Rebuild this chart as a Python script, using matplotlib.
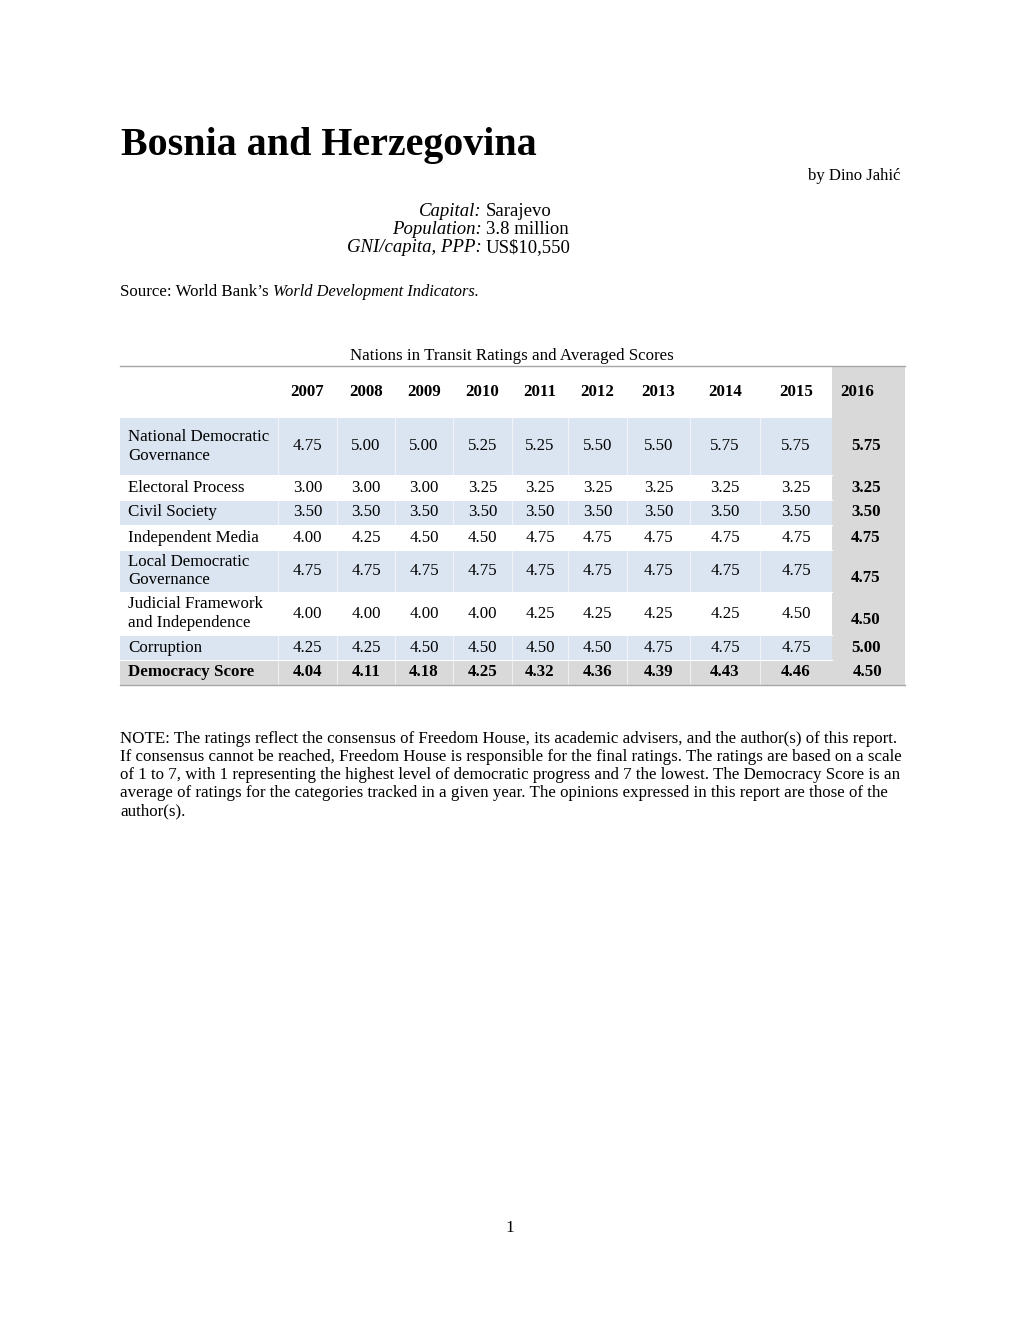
import matplotlib
matplotlib.use("Agg")
import matplotlib.pyplot as plt
from matplotlib.patches import Rectangle

plt.rcParams['font.family'] = ['Liberation Serif', 'DejaVu Serif']

# ---------------- data ----------------
years = ["2007", "2008", "2009", "2010", "2011", "2012", "2013", "2014", "2015", "2016"]
categories = ["National Democratic\nGovernance", "Electoral Process", "Civil Society",
              "Independent Media", "Local Democratic\nGovernance",
              "Judicial Framework\nand Independence", "Corruption", "Democracy Score"]
national_democratic_governance = [4.75, 5.00, 5.00, 5.25, 5.25, 5.50, 5.50, 5.75, 5.75, 5.75]
electoral_process = [3.00, 3.00, 3.00, 3.25, 3.25, 3.25, 3.25, 3.25, 3.25, 3.25]
civil_society = [3.50, 3.50, 3.50, 3.50, 3.50, 3.50, 3.50, 3.50, 3.50, 3.50]
independent_media = [4.00, 4.25, 4.50, 4.50, 4.75, 4.75, 4.75, 4.75, 4.75, 4.75]
local_democratic_governance = [4.75, 4.75, 4.75, 4.75, 4.75, 4.75, 4.75, 4.75, 4.75, 4.75]
judicial_framework = [4.00, 4.00, 4.00, 4.00, 4.25, 4.25, 4.25, 4.25, 4.50, 4.50]
corruption = [4.25, 4.25, 4.50, 4.50, 4.50, 4.50, 4.75, 4.75, 4.75, 5.00]
democracy_score = [4.04, 4.11, 4.18, 4.25, 4.32, 4.36, 4.39, 4.43, 4.46, 4.50]
rows = [national_democratic_governance, electoral_process, civil_society,
        independent_media, local_democratic_governance, judicial_framework,
        corruption, democracy_score]

title = "Bosnia and Herzegovina"
author = "by Dino Jahić"
facts = [("Capital:", "Sarajevo"), ("Population:", "3.8 million"),
         ("GNI/capita, PPP:", "US$10,550")]
caption = "Nations in Transit Ratings and Averaged Scores"
note_lines = [
    "NOTE: The ratings reflect the consensus of Freedom House, its academic advisers, and the author(s) of this report.",
    "If consensus cannot be reached, Freedom House is responsible for the final ratings. The ratings are based on a scale",
    "of 1 to 7, with 1 representing the highest level of democratic progress and 7 the lowest. The Democracy Score is an",
    "average of ratings for the categories tracked in a given year. The opinions expressed in this report are those of the",
    "author(s).",
]

# ---------------- layout (pixels) ----------------
W, H = 1020, 1320
fig = plt.figure(figsize=(W / 100, H / 100), dpi=100)
ax = fig.add_axes([0, 0, 1, 1])
ax.set_xlim(0, W)
ax.set_ylim(H, 0)
ax.axis("off")

BLUE = "#DBE5F1"
GRAY = "#D9D9D9"
LINE = "#A6A6A6"
FS = 12.2

# Title block
ax.text(121, 146, title, fontsize=28.8, fontweight="bold", va="center", ha="left")
ax.text(900, 176, author, fontsize=12, va="center", ha="right")
for i, (lab, val) in enumerate(facts):
    y = 212 + 18 * i
    ax.text(482, y, lab, fontsize=13.5, style="italic", va="center", ha="right")
    ax.text(486, y, val, fontsize=13.5, va="center", ha="left")

t1 = ax.text(120, 292, "Source: World Bank\u2019s ", fontsize=12.2, va="center", ha="left")
fig.canvas.draw()
bb = t1.get_window_extent()
x_end = bb.x1
ax.text(x_end, 292, "World Development Indicators.", fontsize=11.8, style="italic",
        va="center", ha="left")

# Table
ax.text(512, 356, caption, fontsize=12.2, va="center", ha="center")
col_edges = [120, 278, 337, 395, 453, 512, 568, 627, 690, 760, 832, 905]
row_edges = [418, 475, 500, 525, 550, 592, 635, 660, 685]
row_fill = [BLUE, "white", BLUE, "white", BLUE, "white", BLUE, GRAY]
last_offset = [0, 0, 0, 0, 7, 7, 0, 0]

# 2016 column gray background (header through bottom)
ax.add_patch(Rectangle((col_edges[-2], 366), col_edges[-1] - col_edges[-2], 685 - 366,
                       facecolor=GRAY, edgecolor="none", zorder=1))
for r in range(len(rows)):
    y0, y1 = row_edges[r], row_edges[r + 1]
    right = col_edges[-1] if r == len(rows) - 1 else col_edges[-2]
    ax.add_patch(Rectangle((col_edges[0], y0), right - col_edges[0], y1 - y0,
                           facecolor=row_fill[r], edgecolor="none", zorder=1))
    # faint cell separators
    if row_fill[r] != "white":
        for xe in col_edges[1:-2]:
            ax.plot([xe, xe], [y0, y1], color="white", lw=0.8, alpha=0.6, zorder=2)
    if r > 0:
        ax.plot([col_edges[0], col_edges[-2]], [y0, y0], color="white", lw=0.8, zorder=2)

ax.plot([col_edges[0], col_edges[-1]], [366, 366], color=LINE, lw=1.0, zorder=3)
ax.plot([col_edges[0], col_edges[-1]], [685, 685], color=LINE, lw=1.0, zorder=3)

# header
for j, yr in enumerate(years):
    xc = (col_edges[j + 1] + col_edges[j + 2]) / 2
    if j == len(years) - 1:
        xc = 857
    ax.text(xc, 392, yr, fontsize=12.2, fontweight="bold", va="center", ha="center", zorder=4)

for r, (cat, vals) in enumerate(zip(categories, rows)):
    y0, y1 = row_edges[r], row_edges[r + 1]
    yc = (y0 + y1) / 2
    bold = r == len(rows) - 1
    ax.text(128, yc, cat, fontsize=FS, va="center", ha="left",
            fontweight="bold" if bold else "normal", linespacing=1.2, zorder=4)
    for j, v in enumerate(vals):
        xc = (col_edges[j + 1] + col_edges[j + 2]) / 2
        y = yc
        wt = "bold" if bold else "normal"
        if j == len(vals) - 1:
            xc = 866 if not bold else 868
            y = yc + last_offset[r]
            wt = "bold"
        ax.text(xc, y, f"{v:.2f}", fontsize=FS, va="center", ha="center",
                fontweight=wt, zorder=4)

# Note
for i, line in enumerate(note_lines):
    ax.text(120, 739 + 18 * i, line, fontsize=12.2, va="center", ha="left")

# page number
ax.text(510, 1228, "1", fontsize=12.5, va="center", ha="center")

fig.savefig("out.png", dpi=100)
